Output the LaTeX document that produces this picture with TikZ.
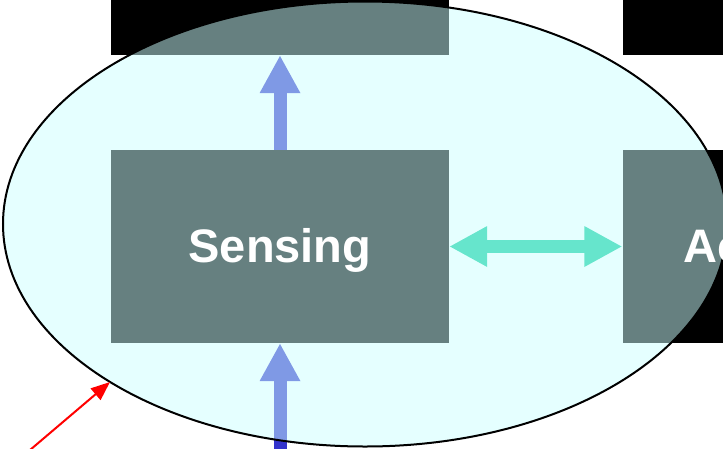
\documentclass[tikz,border=0pt]{standalone}
\usepackage{fontspec}
\setmainfont{Liberation Sans}
\usetikzlibrary{arrows.meta,shapes.geometric}
\definecolor{lcyan}{RGB}{204,255,255}
\definecolor{ablue}{RGB}{51,51,204}
\definecolor{ateal}{RGB}{0,204,153}
\tikzset{
  blackbox/.style={fill=black, draw=none, inner sep=0pt, minimum width=338pt},
  bluearrow/.style={draw=ablue, line width=13pt, -{Triangle[width=38pt,length=38pt]}},
  tealarrow/.style={draw=ateal, line width=13pt, {Triangle[width=38pt,length=38pt]}-{Triangle[width=38pt,length=38pt]}},
  redarrow/.style={draw=red, line width=2pt, -{Triangle[width=15pt,length=19pt]}},
  lbl/.style={text=white, font=\fontsize{47}{56}\selectfont\bfseries, inner sep=0pt, anchor=base},
  cloud/.style={ellipse, fill=lcyan, fill opacity=0.5, draw=black, line width=2pt}
}
\begin{document}
\begin{tikzpicture}[x=1pt,y=-1pt]
\useasboundingbox (0,0) rectangle (723,448);
\clip (0,0) rectangle (723,448);
% boxes
\node[blackbox, minimum height=55pt] (top) at (280,27.5) {};
\node[blackbox, minimum height=55pt] (topr) at (791.5,27.5) {};
\node[blackbox, minimum height=193pt] (mid) at (280,246.5) {};
\node[blackbox, minimum height=193pt] (right) at (791.5,246.5) {};
% connectors
\coordinate (below) at (280,470);
\draw[bluearrow] (mid.north) -- (top.south);
\draw[bluearrow] (below) -- (mid.south);
\draw[tealarrow] (mid.east) -- (right.west);
% ellipse
\node[cloud, minimum width=724pt, minimum height=445pt, inner sep=0pt] (ell) at (365,224) {};
% red pointer
\coordinate (rstart) at (30,450);
\coordinate (rtip) at (110,382);
\draw[redarrow] (rstart) -- (rtip);
% labels
\node[lbl] (sens) at (280,262) {Sensing};
\node[lbl] (act) at (791.5,262) {Actuation};
\end{tikzpicture}
\end{document}
